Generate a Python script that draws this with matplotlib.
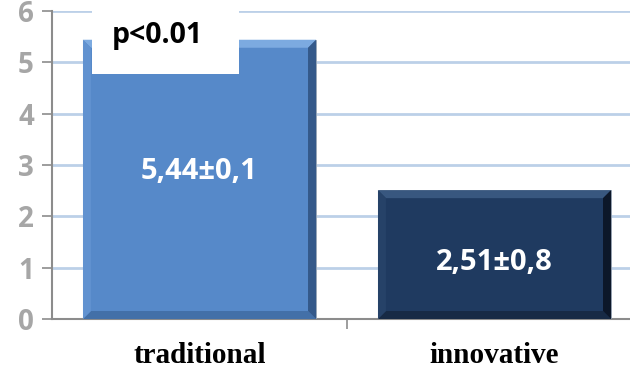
import matplotlib
matplotlib.use("Agg")
import matplotlib.pyplot as plt
from matplotlib.patches import Polygon, Rectangle
from matplotlib.transforms import IdentityTransform

categories = ["traditional", "innovative"]
values = [5.44, 2.51]
value_labels = ["5,44±0,1", "2,51±0,8"]
yticks = [0, 1, 2, 3, 4, 5, 6]
p_text = "p<0.01"

bar_colors = ["#5689c9", "#1f3a60"]
bevel = {
    0: dict(top="#7caae0", left="#6192d0", right="#34598a", bottom="#4370a8"),
    1: dict(top="#38577f", left="#264268", right="#0c1729", bottom="#172a45"),
}

fig = plt.figure(figsize=(6.3, 3.68), dpi=100)
ax = fig.add_axes([52/630, 49/368, 590/630, 308/368])

x = list(range(len(categories)))
bars = ax.bar(x, values, width=0.79, color=bar_colors, zorder=3,
              edgecolor="#9aa5b3", linewidth=0.6)

ax.set_xlim(-0.5, 1.5)
ax.set_ylim(0, 6)
ax.set_yticks(yticks)
ax.set_yticklabels([str(t) for t in yticks])
ax.set_xticks([0.5, 1.5])
ax.set_xticklabels([])
ax.tick_params(axis="x", direction="out", length=7, width=1.2, color="#8c8c8c")
ax.tick_params(axis="y", direction="out", length=7, width=1.2, color="#8c8c8c",
               labelcolor="#a6a6a6", labelsize=20, pad=6)
for lbl in ax.get_yticklabels():
    lbl.set_fontweight("bold")
    lbl.set_family("Open Sans")

ax.yaxis.grid(True, color="#bcd0e8", linewidth=2, zorder=0)
ax.set_axisbelow(True)
for s in ["top", "right"]:
    ax.spines[s].set_visible(False)
ax.spines["left"].set_color("#8c8c8c")
ax.spines["left"].set_linewidth(1.5)
ax.spines["bottom"].set_color("#8c8c8c")
ax.spines["bottom"].set_linewidth(1.5)
ax.spines["left"].set_zorder(4)

for i, c in enumerate(categories):
    ax.text(i, -0.72, c, ha="center", va="center", fontsize=21, fontweight="bold",
            family="Liberation Serif", color="#000000", clip_on=False)

# bevel effect
fig.canvas.draw()
b = 8
for i, bar in enumerate(bars):
    x0 = ax.transData.transform((bar.get_x(), 0))[0]
    x1 = ax.transData.transform((bar.get_x() + bar.get_width(), 0))[0]
    y0 = ax.transData.transform((0, bar.get_y()))[1]
    y1 = ax.transData.transform((0, bar.get_y() + bar.get_height()))[1]
    cols = bevel[i]
    polys = {
        "top": [(x0, y1), (x1, y1), (x1 - b, y1 - b), (x0 + b, y1 - b)],
        "bottom": [(x0, y0), (x1, y0), (x1 - b, y0 + b), (x0 + b, y0 + b)],
        "left": [(x0, y0), (x0, y1), (x0 + b, y1 - b), (x0 + b, y0 + b)],
        "right": [(x1, y0), (x1, y1), (x1 - b, y1 - b), (x1 - b, y0 + b)],
    }
    for k, pts in polys.items():
        fig.add_artist(Polygon(pts, closed=True, facecolor=cols[k], edgecolor="none",
                               transform=IdentityTransform(), zorder=3.5))

for i, (v, lab) in enumerate(zip(values, value_labels)):
    ypos = 2.88 if i == 0 else 1.1
    ax.text(i, ypos, lab, ha="center", va="center", fontsize=21, fontweight="bold",
            family="Open Sans", color="white", zorder=6)

# white box with p-value
fig.add_artist(Rectangle((92/630, (368-74)/368), 147/630, 74/368, facecolor="white",
                         edgecolor="none", transform=fig.transFigure, zorder=7))
fig.text(157/630, (368-36)/368, p_text, ha="center", va="center", fontsize=20.5,
         fontweight="bold", family="Open Sans", color="black", zorder=8)

fig.savefig("out.png", dpi=100)
